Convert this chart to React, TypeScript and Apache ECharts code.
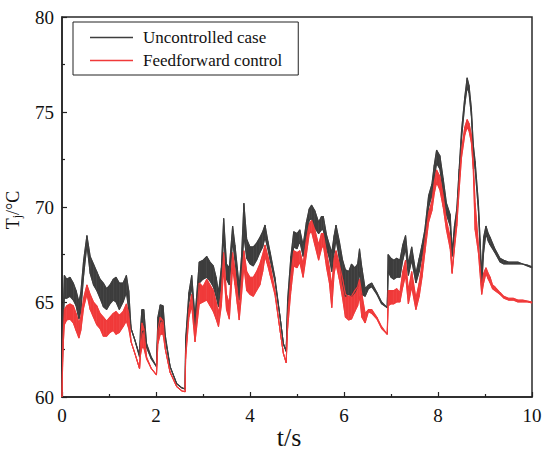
import React, { useEffect, useRef } from "react";
import * as echarts from "echarts";

// time axis (s)
const T = [
  0, 0.02, 0.05, 0.10, 0.17, 0.24, 0.30, 0.36, 0.40, 0.46, 0.53, 0.60, 0.67, 0.74, 0.81, 0.88, 0.95, 1.02, 1.09, 1.15,
  1.22, 1.30, 1.37, 1.42, 1.47, 1.55, 1.65, 1.67, 1.70, 1.74, 1.80, 1.90, 2.01, 2.04, 2.09, 2.15, 2.20, 2.30, 2.44, 2.55,
  2.62, 2.63, 2.70, 2.76, 2.83, 2.92, 3.00, 3.08, 3.15, 3.22, 3.28, 3.33, 3.39, 3.44, 3.50, 3.56, 3.63, 3.68, 3.73, 3.77,
  3.82, 3.87, 3.93, 4.00, 4.07, 4.14, 4.21, 4.27, 4.32, 4.38, 4.43, 4.53, 4.64, 4.71, 4.77, 4.80, 4.87, 4.93, 5.00, 5.06,
  5.13, 5.20, 5.26, 5.31, 5.38, 5.46, 5.52, 5.56, 5.63, 5.69, 5.74, 5.79, 5.83, 5.90, 5.97, 6.03, 6.10, 6.16, 6.23, 6.29,
  6.33, 6.38, 6.45, 6.52, 6.59, 6.70, 6.80, 6.92, 6.94, 7.00, 7.06, 7.12, 7.19, 7.25, 7.31, 7.37, 7.44, 7.53, 7.60, 7.66,
  7.72, 7.80, 7.87, 7.92, 7.97, 8.04, 8.11, 8.18, 8.26, 8.30, 8.35, 8.40, 8.45, 8.50, 8.57, 8.62, 8.66, 8.71, 8.75, 8.79,
  8.86, 8.93, 8.97, 9.02, 9.07, 9.11, 9.16, 9.21, 9.32, 9.40, 9.50, 9.60, 9.70, 9.80, 9.90, 10.0,
];

// Uncontrolled case: lower / upper edge of the noisy trace (°C)
const unLo = [
  60.0, 63.5, 65.2, 65.2, 65.3, 65.1, 64.8, 64.1, 64.5, 66.4, 68.0, 66.5, 65.9, 65.6, 65.2, 64.75, 64.6, 64.9, 65.1, 65.0,
  64.6, 65.0, 65.5, 64.6, 63.6, 63.0, 62.1, 63.0, 63.4, 63.5, 62.6, 62.0, 61.6, 63.5, 64.0, 64.0, 63.0, 61.6, 60.7, 60.48,
  60.42, 62.8, 65.0, 65.8, 63.7, 66.0, 66.2, 66.3, 66.1, 65.8, 65.3, 64.75, 66.0, 68.5, 66.2, 65.9, 68.2, 67.2, 66.0, 65.1,
  66.5, 68.5, 67.3, 67.0, 66.9, 67.2, 67.6, 67.9, 68.4, 67.8, 67.2, 66.1, 64.2, 62.8, 62.4, 64.6, 66.6, 67.9, 67.8, 68.2,
  67.4, 68.5, 69.3, 69.4, 68.9, 68.6, 68.8, 68.8, 67.8, 67.3, 66.6, 67.6, 68.3, 67.3, 66.0, 65.3, 65.4, 65.3, 65.5, 65.8,
  66.6, 65.4, 65.3, 65.7, 65.8, 65.4, 64.9, 64.7, 66.6, 66.3, 66.2, 66.3, 66.3, 67.2, 67.8, 66.4, 67.2, 66.0, 66.6, 67.4,
  68.2, 70.0, 70.6, 71.5, 72.3, 72.0, 70.8, 69.6, 69.0, 67.4, 68.6, 69.5, 71.6, 73.6, 75.4, 76.3, 76.0, 74.8, 72.9, 72.0,
  69.8, 65.8, 67.6, 68.6, 68.2, 68.0, 67.8, 67.6, 67.1, 67.0, 67.0, 67.0, 67.0, 67.0, 66.9, 66.8,
];
const unHi = [
  60.0, 64.0, 66.4, 66.2, 66.3, 66.0, 65.6, 65.0, 65.5, 67.2, 68.5, 67.4, 67.0, 66.6, 66.2, 66.0, 65.7, 65.9, 66.2, 66.3,
  66.0, 66.0, 66.4, 65.6, 63.6, 63.0, 62.2, 63.6, 64.6, 64.6, 62.8, 62.1, 61.6, 64.2, 64.85, 64.8, 63.2, 61.6, 60.7, 60.48,
  60.42, 63.0, 65.5, 66.4, 64.2, 67.1, 67.2, 67.4, 67.1, 66.9, 66.3, 65.5, 66.8, 69.4, 67.0, 66.8, 69.0, 68.0, 66.8, 65.8,
  67.4, 70.2, 68.3, 67.9, 67.9, 68.1, 68.4, 68.7, 69.05, 68.2, 67.6, 66.3, 64.2, 62.8, 62.4, 65.1, 67.4, 68.7, 68.6, 68.8,
  68.0, 69.2, 69.9, 70.1, 69.8, 69.2, 69.5, 69.5, 68.5, 68.0, 67.6, 68.5, 69.05, 68.2, 67.2, 66.7, 66.6, 67.0, 66.8, 67.0,
  67.8, 66.8, 65.7, 65.9, 66.0, 65.5, 65.0, 64.7, 67.5, 67.3, 67.2, 67.3, 67.2, 68.0, 68.5, 67.0, 67.9, 66.5, 67.3, 68.0,
  68.8, 70.6, 71.2, 72.2, 73.0, 72.7, 71.5, 70.2, 69.6, 67.6, 69.0, 69.9, 72.0, 74.0, 75.8, 76.8, 76.4, 75.2, 73.3, 72.4,
  70.2, 66.4, 68.4, 69.0, 68.6, 68.4, 68.1, 67.8, 67.3, 67.2, 67.1, 67.1, 67.1, 67.0, 66.95, 66.85,
];

// Feedforward control: lower / upper edge of the noisy trace (°C)
const ffLo = [
  60.0, 62.5, 63.8, 64.05, 64.1, 63.9, 63.5, 63.1, 63.5, 64.7, 65.4, 64.6, 64.2, 63.8, 63.6, 63.2, 63.2, 63.4, 63.5, 63.3,
  63.4, 63.7, 64.0, 63.6, 62.9, 62.3, 61.5, 62.2, 62.6, 62.6, 62.0, 61.5, 61.16, 62.8, 63.3, 63.3, 62.5, 61.3, 60.55, 60.32,
  60.28, 62.0, 64.2, 64.8, 62.9, 64.9, 65.0, 65.1, 64.8, 64.5, 64.1, 63.7, 64.8, 66.8, 64.6, 64.1, 66.8, 65.9, 64.9, 64.05,
  65.4, 66.9, 65.6, 65.4, 65.3, 65.6, 65.9, 66.6, 67.4, 66.9, 66.4, 65.4, 63.5, 62.3, 61.8, 63.6, 65.6, 66.9, 66.8, 67.1,
  66.3, 67.5, 68.6, 68.7, 68.0, 67.2, 67.8, 68.0, 66.8, 66.0, 64.7, 66.5, 67.0, 66.2, 65.2, 64.2, 64.05, 64.1, 64.5, 64.8,
  65.3, 64.2, 63.9, 64.5, 64.4, 64.1, 63.6, 63.3, 64.8, 64.9, 64.9, 65.0, 65.0, 65.8, 66.4, 64.9, 65.8, 64.6, 65.3, 66.3,
  67.6, 69.2, 69.8, 70.7, 71.3, 70.9, 70.0, 68.8, 67.8, 66.5, 67.8, 69.0, 70.9, 72.6, 73.8, 74.2, 74.0, 73.4, 72.0, 68.8,
  67.6, 65.4, 66.0, 66.5, 66.2, 66.0, 65.7, 65.6, 65.4, 65.2, 65.1, 65.1, 65.0, 65.0, 65.0, 64.95,
];
const ffHi = [
  60.0, 63.0, 64.6, 64.8, 64.9, 64.8, 64.4, 63.9, 64.2, 65.2, 65.9, 65.4, 65.0, 64.8, 64.4, 64.2, 64.0, 64.2, 64.4, 64.5,
  64.3, 64.5, 64.9, 64.4, 62.9, 62.3, 61.5, 62.8, 63.9, 63.6, 62.1, 61.5, 61.16, 63.5, 64.2, 64.0, 62.5, 61.3, 60.55, 60.32,
  60.28, 62.2, 64.6, 65.4, 63.3, 66.0, 65.8, 66.2, 65.9, 65.6, 65.0, 64.4, 65.6, 67.6, 65.4, 64.9, 67.6, 66.7, 65.6, 64.6,
  66.2, 67.7, 66.6, 66.3, 66.3, 66.6, 67.0, 67.5, 68.0, 67.4, 66.9, 65.6, 63.5, 62.3, 61.8, 64.2, 66.4, 67.7, 67.6, 67.7,
  67.0, 68.3, 69.1, 69.3, 68.8, 68.0, 68.6, 68.6, 67.6, 66.8, 65.8, 67.3, 67.7, 67.0, 66.2, 65.4, 65.3, 65.3, 65.6, 65.8,
  66.2, 65.4, 64.4, 64.6, 64.6, 64.2, 63.7, 63.3, 65.6, 65.6, 65.6, 65.7, 65.5, 66.6, 67.2, 65.6, 66.6, 65.2, 66.0, 67.0,
  68.2, 69.7, 70.3, 71.3, 71.95, 71.6, 70.6, 69.3, 68.4, 66.6, 68.1, 69.4, 71.3, 73.0, 74.2, 74.6, 74.4, 73.8, 72.4, 70.2,
  68.0, 65.7, 66.5, 66.8, 66.5, 66.3, 65.9, 65.8, 65.5, 65.3, 65.2, 65.2, 65.1, 65.1, 65.05, 65.0,
];

const X_TICKS = { min: 0, max: 10, interval: 2 };
const Y_TICKS = { min: 60, max: 80, interval: 5 };
const NAMES = ["Uncontrolled case", "Feedforward control"];

const GRAY = "#3d3d3d";
const RED = "#f03a3a";
const FONT = "Liberation Serif";

function bandSeries(key: string, name: string, lo: number[], hi: number[], color: string) {
  const lineCommon = {
    type: "line",
    symbol: "none",
    showSymbol: false,
    silent: true,
    emphasis: { disabled: true },
    itemStyle: { color },
    lineStyle: { color, width: 1.1 },
  };
  // one quad per segment between the lower and upper edges
  const segs = T.slice(0, -1).map((t, i) => [t, lo[i], hi[i], T[i + 1], lo[i + 1], hi[i + 1]]);
  return [
    {
      type: "custom",
      name: key + "-band",
      silent: true,
      data: segs,
      encode: { x: [0, 3], y: [1, 2, 4, 5] },
      renderItem: (params: any, api: any) => {
        const a = api.coord([api.value(0), api.value(1)]);
        const b = api.coord([api.value(0), api.value(2)]);
        const c = api.coord([api.value(3), api.value(5)]);
        const d = api.coord([api.value(3), api.value(4)]);
        return {
          type: "polygon",
          shape: { points: [a, b, c, d] },
          style: { fill: color, stroke: color, lineWidth: 0.6 },
        };
      },
    },
    { ...lineCommon, name: key + "-lower", data: T.map((t, i) => [t, lo[i]]) },
    { ...lineCommon, name, data: T.map((t, i) => [t, hi[i]]) },
  ];
}

export default function App() {
  const ref = useRef<HTMLDivElement>(null);
  useEffect(() => {
    if (!ref.current) return;
    const chart = echarts.init(ref.current, null, { renderer: "svg" });
    const axisCommon = {
      type: "value",
      splitLine: { show: false },
      axisLine: { show: true, lineStyle: { color: "#222", width: 1.5 } },
      axisTick: { show: true, inside: true, length: 5, lineStyle: { color: "#222", width: 1.2 } },
      minorTick: { show: true, splitNumber: 2, length: 3, lineStyle: { color: "#222", width: 1.2 } },
      axisLabel: { fontFamily: FONT, fontSize: 19, color: "#111" },
    };
    chart.setOption({
      animation: false,
      backgroundColor: "#fff",
      textStyle: { fontFamily: FONT },
      grid: {
        left: 62,
        right: 18,
        top: 17,
        bottom: 58,
        show: true,
        borderColor: "#2a2a2a",
        borderWidth: 1.5,
        containLabel: false,
      },
      xAxis: {
        ...axisCommon,
        ...X_TICKS,
        axisLabel: { ...axisCommon.axisLabel, margin: 9 },
      },
      yAxis: {
        ...axisCommon,
        ...Y_TICKS,
        axisLabel: { ...axisCommon.axisLabel, margin: 8 },
      },
      legend: {
        orient: "vertical",
        left: 73,
        top: 22,
        padding: [7, 16, 6, 17],
        itemGap: 6,
        itemWidth: 43,
        itemHeight: 1.6,
        icon: "rect",
        borderColor: "#222",
        borderWidth: 1,
        borderRadius: 0,
        data: NAMES,
        selectedMode: false,
        textStyle: { fontFamily: FONT, fontSize: 17, color: "#111", padding: [0, 0, 0, 5] },
      },
      graphic: [
        {
          type: "text",
          x: 13,
          y: 210,
          rotation: Math.PI / 2,
          style: {
            text: "T{sub|j}/°C",
            fontFamily: FONT,
            fontSize: 18,
            fill: "#111",
            align: "center",
            verticalAlign: "middle",
            rich: {
              sub: { fontFamily: FONT, fontSize: 12, fill: "#111", verticalAlign: "bottom", padding: [8, 0, 0, 0] },
            },
          },
        },
        {
          type: "text",
          x: 289,
          y: 437,
          style: {
            text: "t/s",
            fontFamily: FONT,
            fontSize: 26,
            fill: "#111",
            align: "center",
            verticalAlign: "middle",
          },
        },
      ],
      series: [
        ...bandSeries("u", NAMES[0], unLo, unHi, GRAY),
        ...bandSeries("f", NAMES[1], ffLo, ffHi, RED),
      ],
    });
    return () => chart.dispose();
  }, []);
  return (
    <div
      ref={ref}
      style={{ position: "fixed", left: 0, top: 0, width: 550, height: 455 }}
    />
  );
}
